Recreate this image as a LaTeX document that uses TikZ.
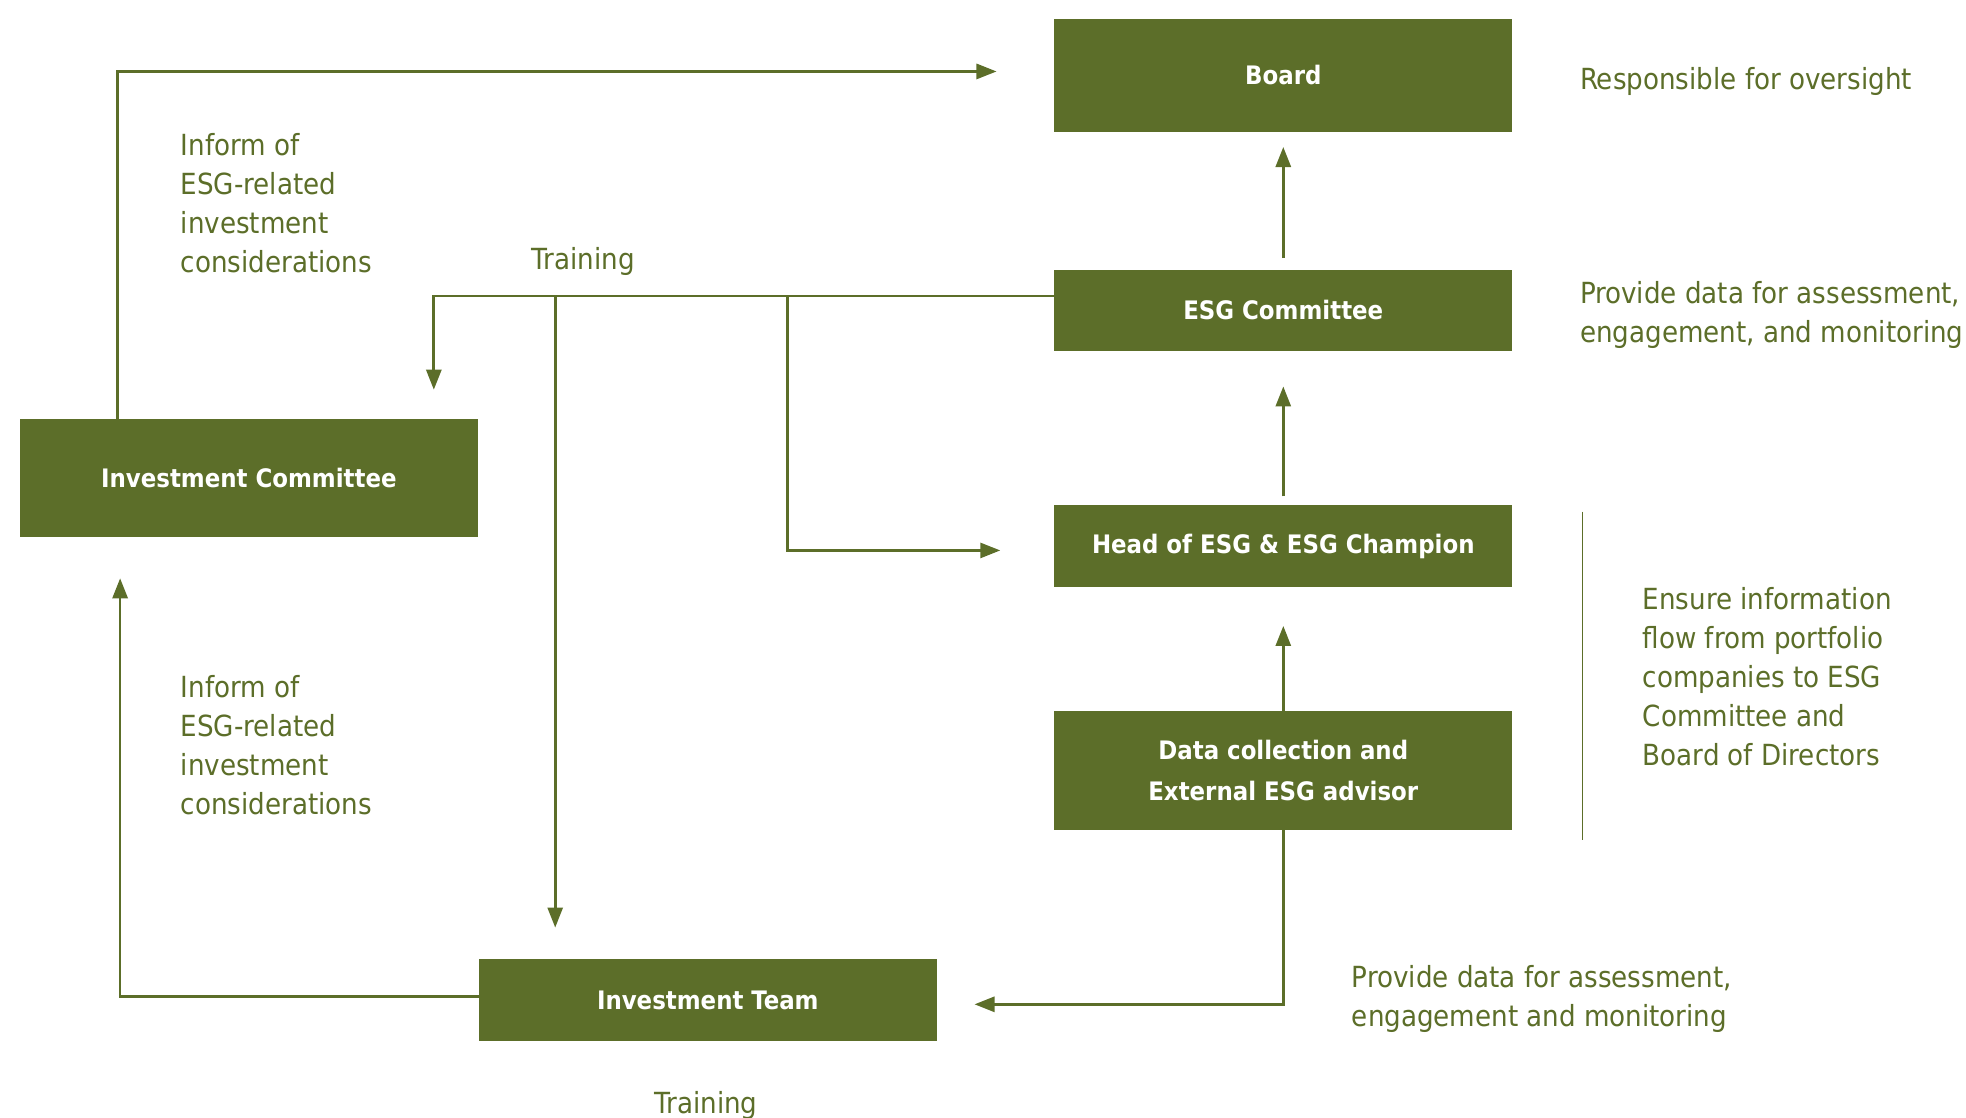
\documentclass[tikz,border=0pt]{standalone}
\usepackage{fontspec}
\setmainfont{DejaVu Sans Condensed}[BoldFont={DejaVu Sans Condensed Bold}]
\usetikzlibrary{arrows.meta}
\definecolor{esgolive}{HTML}{5C6E29}
\begin{document}
\begin{tikzpicture}[x=1pt,y=-1pt,
  box/.style={fill=esgolive, draw=none, minimum width=365pt, text=white,
    font=\fontsize{20.3}{33}\selectfont\bfseries, align=center, inner sep=0pt},
  lbl/.style={text=esgolive, font=\fontsize{23.2}{31}\selectfont, align=left,
    anchor=north west, inner sep=0pt},
  link/.style={draw=esgolive, line width=2.2pt},
  arr/.style={link, -{Triangle[length=16pt,width=12pt]}},
]
\useasboundingbox (0,0) rectangle (1568,891);

% boxes
\node[box, minimum height=90pt] (board) at (1023.5,60) {Board};
\node[box, minimum height=65pt] (esg) at (1023.5,247.5) {ESG Committee};
\node[box, minimum height=65pt] (head) at (1023.5,435.5) {Head of ESG \& ESG Champion};
\node[box, minimum height=95pt] (data) at (1023.5,614.5) {Data collection and\\External ESG advisor};
\node[box, minimum height=94pt] (ic) at (198.5,381) {Investment Committee};
\node[box, minimum height=65pt] (it) at (564.5,797.5) {Investment Team};

% reporting chain
\draw[arr] ([yshift=9pt]esg.north) -- ([yshift=-12pt]board.south);
\draw[arr] ([yshift=7pt]head.north) -- ([yshift=-28pt]esg.south);
\draw[arr] (data.north) -- ([yshift=-31pt]head.south);

% investment committee informs the board
\coordinate (bin) at ([xshift=-46pt,yshift=3pt]board.west);
\draw[arr] ([xshift=78pt]ic.north west) |- (bin);

% training from the ESG committee
\coordinate (tr) at ([yshift=11.5pt]esg.west);
\coordinate (icdrop) at ([xshift=147.5pt,yshift=23pt]ic.north);
\coordinate (itdrop) at ([xshift=61pt,yshift=25pt]it.north west);
\coordinate (hdrop) at ([xshift=-43pt,yshift=-3.5pt]head.west);
\coordinate (hbend) at ([xshift=-170pt]hdrop);
\draw[arr] (tr) -| (icdrop);
\draw[arr] (tr -| itdrop) -- (itdrop);
\draw[arr] (tr -| hbend) |- (hdrop);

% data to the investment team
\draw[arr] (data.south) |- ([xshift=30pt,yshift=-3.5pt]it.east);

% investment team informs the committee
\draw[arr] ([yshift=2.5pt]it.west) -| ([xshift=80pt,yshift=-33pt]ic.south west);

% side bracket line
\coordinate (vtop) at (1262,408);
\coordinate (vbot) at (1262,670);
\draw[draw=esgolive, line width=1.2pt] (vtop) -- (vbot);

% labels
\node[lbl] (lresp) at (1260,53.5) {Responsible for oversight};
\node[lbl] (lprov) at (1260,224.5) {Provide data for assessment,\\engagement, and monitoring};
\node[lbl] (lens) at (1310,468.5) {Ensure information\\flow from portfolio\\companies to ESG\\Committee and\\Board of Directors};
\node[lbl] (lprov2) at (1078,769.5) {Provide data for assessment,\\engagement and monitoring};
\node[lbl] (linf1) at (144,106.5) {Inform of\\ESG-related\\investment\\considerations};
\node[lbl] (linf2) at (144,538.5) {Inform of\\ESG-related\\investment\\considerations};
\node[lbl] (ltr1) at (424,197.5) {Training};
\node[lbl] (ltr2) at (522,870.5) {Training};
\end{tikzpicture}
\end{document}
